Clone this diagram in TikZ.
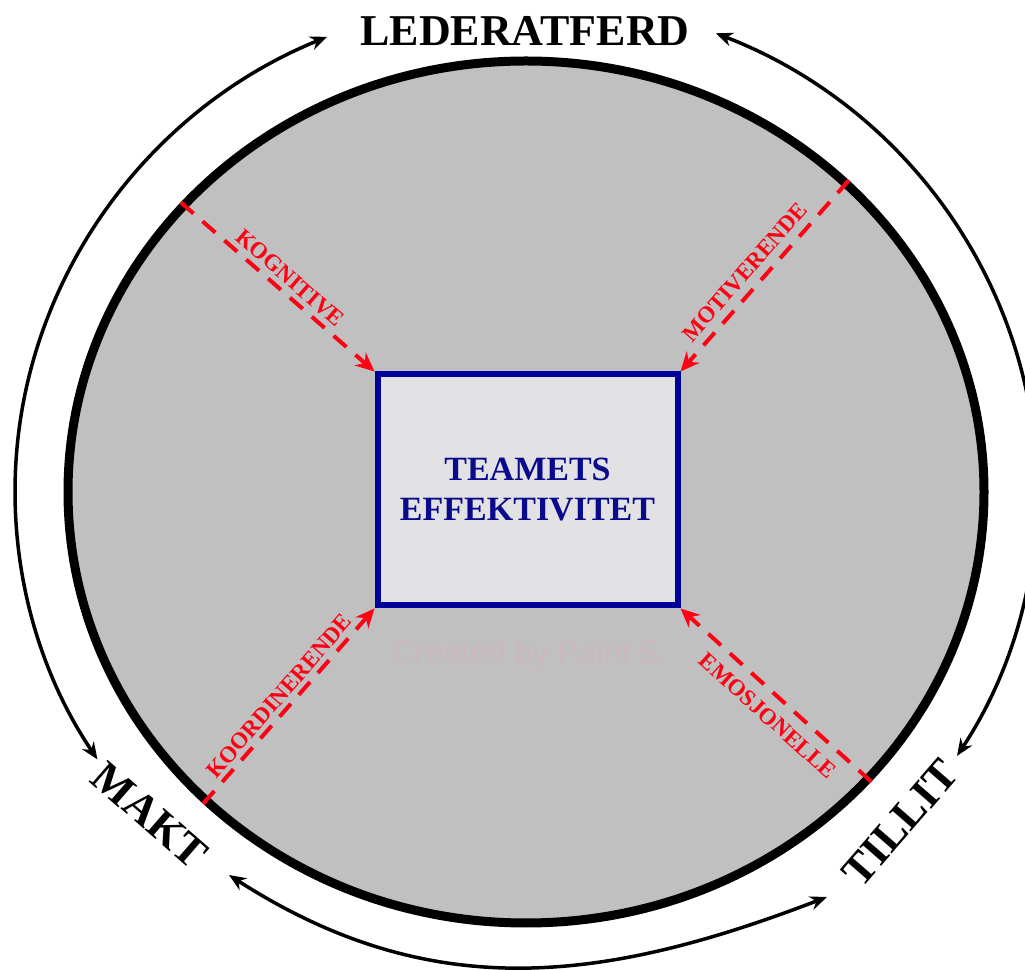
\documentclass[tikz,border=0pt]{standalone}
\usepackage{fontspec}
\setmainfont{Liberation Serif}
\newfontfamily\wmfont{Liberation Sans}
\usetikzlibrary{arrows.meta,shapes.geometric}
\definecolor{ringgray}{RGB}{192,192,192}
\definecolor{boxfill}{RGB}{226,226,228}
\definecolor{navyline}{RGB}{0,0,155}
\definecolor{navytext}{RGB}{10,10,140}
\definecolor{redline}{RGB}{255,0,20}
\definecolor{wmcolor}{RGB}{203,184,188}
\begin{document}
\begin{tikzpicture}[x=1pt,y=1pt,
  bigtitle/.style={font=\fontsize{44}{50}\selectfont\bfseries, inner sep=0pt},
  flowlabel/.style={font=\fontsize{23}{26}\selectfont\bfseries, text=redline, inner sep=0pt},
  flowline/.style={draw=redline, line width=4pt, dash pattern=on 17pt off 12pt, -{Stealth[length=19pt,width=17pt]}},
  ringarrow/.style={draw=black, line width=3.5pt, {Stealth[length=17pt,width=14pt]}-{Stealth[length=17pt,width=14pt]}},
]
\clip (0,0) rectangle (1025,969);
\fill[white] (0,0) rectangle (1025,969);

% main ellipse
\node[ellipse, draw=black, line width=9pt, fill=ringgray, minimum width=916pt, minimum height=862pt, inner sep=0pt] (ring) at (526,477) {};

% watermark
\node[font=\wmfont\fontsize{32}{36}\selectfont, text=wmcolor, inner sep=0pt] (wm) at (526,314) {Created by Paint S};

% centre box
\node[draw=navyline, line width=6pt, fill=boxfill, minimum width=300pt, minimum height=231pt, inner sep=0pt,
      font=\fontsize{34}{40}\selectfont\bfseries, text=navytext, align=center] (team) at (527.5,479) {TEAMETS\\EFFEKTIVITET};

% outer labels
\node[bigtitle] (lead) at (525,938) {LEDERATFERD};
\node[bigtitle, rotate=-41] (makt) at (150,154) {MAKT};
\node[bigtitle, rotate=49] (tillit) at (900,146) {TILLIT};

% outer arcs
\coordinate (la) at (327.2,932.2);
\coordinate (ra) at (715.8,935.7);
\coordinate (ba) at (229,94);
\coordinate (bb) at (827,72);
\draw[ringarrow] (la) arc[start angle=112.9, end angle=213, x radius=511, y radius=493];
\draw[ringarrow] (ra) arc[start angle=68.2, end angle=-32.5, x radius=511, y radius=493];
\draw[ringarrow] (ba) .. controls (431,-36) and (603,-14) .. (bb);

% red dashed flows
\draw[flowline] (ring.140) -- (team.north west);
\draw[flowline] (ring.44) -- (team.north east);
\draw[flowline] (ring.224) -- (team.south west);
\draw[flowline] (ring.320) -- (team.south east);

\node[flowlabel, rotate=-41] (kog) at (290,691) {KOGNITIVE};
\node[flowlabel, rotate=48.6] (mot) at (745,697) {MOTIVERENDE};
\node[flowlabel, rotate=49] (koo) at (279,273) {KOORDINERENDE};
\node[flowlabel, rotate=-42] (emo) at (768,253) {EMOSJONELLE};
\end{tikzpicture}
\end{document}
